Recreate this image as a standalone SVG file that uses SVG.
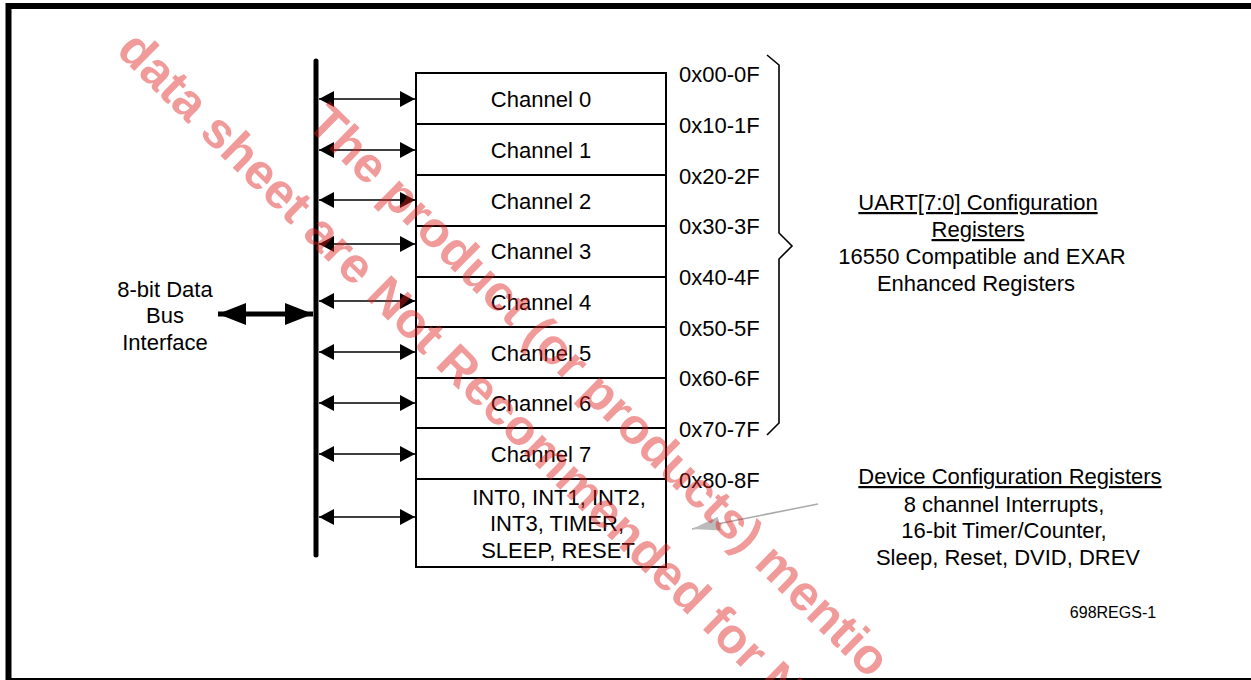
<svg xmlns="http://www.w3.org/2000/svg" width="1251" height="680" viewBox="0 0 1251 680">
<style>
text{font-family:"Liberation Sans",Arial,sans-serif;font-size:22px;fill:#000}
.c{text-anchor:middle}
.u{text-decoration:underline}
.box{fill:#fff;stroke:#000;stroke-width:2}
.wm{font-family:"Liberation Sans",Arial,sans-serif;font-weight:bold;font-size:50px;fill:#e02020;fill-opacity:0.45}
</style>
<defs>
<marker id="ah" markerUnits="userSpaceOnUse" markerWidth="16" markerHeight="16" viewBox="0 0 16 16" refX="15" refY="8" orient="auto-start-reverse">
<path d="M0,0 L15,8 L0,16 Z" fill="#000"/>
</marker>
<marker id="bh" markerUnits="userSpaceOnUse" markerWidth="28" markerHeight="22" viewBox="0 0 28 22" refX="28" refY="11" orient="auto-start-reverse">
<path d="M0,0 L28,11 L0,22 Z" fill="#000"/>
</marker>
<marker id="gh" markerUnits="userSpaceOnUse" markerWidth="28" markerHeight="14" viewBox="0 0 28 14" refX="28" refY="7" orient="auto">
<path d="M0,0 L28,7 L0,14 Z" fill="#bbb"/>
</marker>
</defs>
<rect x="8.5" y="6" width="1250" height="675" fill="#fff" stroke="#000" stroke-width="6"/>

<g id="bus">
<line x1="316" y1="61" x2="316" y2="555" stroke="#000" stroke-width="5" stroke-linecap="round"/>
</g>

<g id="bus-label">
<text class="c" x="165" y="297">8-bit Data</text>
<text class="c" x="165" y="323">Bus</text>
<text class="c" x="165" y="350">Interface</text>
</g>

<g id="ch0"><rect class="box" x="416" y="73" width="250" height="51"/><text class="c" x="541" y="107">Channel 0</text></g>
<g id="ch1"><rect class="box" x="416" y="124" width="250" height="51"/><text class="c" x="541" y="158">Channel 1</text></g>
<g id="ch2"><rect class="box" x="416" y="175" width="250" height="51"/><text class="c" x="541" y="209">Channel 2</text></g>
<g id="ch3"><rect class="box" x="416" y="226" width="250" height="51"/><text class="c" x="541" y="259">Channel 3</text></g>
<g id="ch4"><rect class="box" x="416" y="277" width="250" height="50"/><text class="c" x="541" y="310">Channel 4</text></g>
<g id="ch5"><rect class="box" x="416" y="327" width="250" height="51"/><text class="c" x="541" y="361">Channel 5</text></g>
<g id="ch6"><rect class="box" x="416" y="378" width="250" height="50"/><text class="c" x="541" y="411">Channel 6</text></g>
<g id="ch7"><rect class="box" x="416" y="428" width="250" height="51"/><text class="c" x="541" y="462">Channel 7</text></g>
<g id="devreg"><rect class="box" x="416" y="479" width="250" height="88"/>
<text class="c" x="559" y="505">INT0, INT1, INT2,</text>
<text class="c" x="557" y="531">INT3, TIMER,</text>
<text class="c" x="558" y="558">SLEEP, RESET</text></g>

<g id="addresses">
<text x="679" y="82">0x00-0F</text>
<text x="679" y="133">0x10-1F</text>
<text x="679" y="184">0x20-2F</text>
<text x="679" y="234">0x30-3F</text>
<text x="679" y="285">0x40-4F</text>
<text x="679" y="336">0x50-5F</text>
<text x="679" y="386">0x60-6F</text>
<text x="679" y="437">0x70-7F</text>
<text x="679" y="488">0x80-8F</text>
</g>

<g id="uart-label">
<text class="c u" x="978" y="210">UART[7:0] Configuration</text>
<text class="c u" x="978" y="237">Registers</text>
<text class="c" x="982" y="264">16550 Compatible and EXAR</text>
<text class="c" x="976" y="291">Enhanced Registers</text>
</g>

<g id="dev-label">
<text class="c u" x="1010" y="484">Device Configuration Registers</text>
<text class="c" x="1004" y="512">8 channel Interrupts,</text>
<text class="c" x="1004" y="538">16-bit Timer/Counter,</text>
<text class="c" x="1008" y="565">Sleep, Reset, DVID, DREV</text>
</g>

<g id="fig-id"><text class="c" x="1113" y="618" style="font-size:16px">698REGS-1</text></g>

<g id="connectors" fill="none" stroke="#000">
<line x1="218" y1="314" x2="313" y2="314" stroke-width="5" marker-start="url(#bh)" marker-end="url(#bh)"/>
<g stroke-width="1.6" marker-start="url(#ah)" marker-end="url(#ah)">
<line x1="319" y1="99" x2="415" y2="99"/>
<line x1="319" y1="150" x2="415" y2="150"/>
<line x1="319" y1="200" x2="415" y2="200"/>
<line x1="319" y1="244" x2="415" y2="244"/>
<line x1="319" y1="301" x2="415" y2="301"/>
<line x1="319" y1="352" x2="415" y2="352"/>
<line x1="319" y1="403" x2="415" y2="403"/>
<line x1="319" y1="454" x2="415" y2="454"/>
<line x1="319" y1="517" x2="415" y2="517"/>
</g>
<path d="M767,55 L779,65 L779,233 L792,246 L779,259 L779,423 L767,435" stroke-width="1.6"/>
<line x1="818" y1="504" x2="692" y2="529" stroke="#aaa" stroke-width="1.5" marker-end="url(#gh)"/>
</g>

<g id="watermark">
<text class="wm" transform="translate(115,52) rotate(44.5)">data sheet are Not Recommended for N</text>
<text class="wm" transform="translate(305,125) rotate(44.5)">The product (or products) mentio</text>
</g>
</svg>
